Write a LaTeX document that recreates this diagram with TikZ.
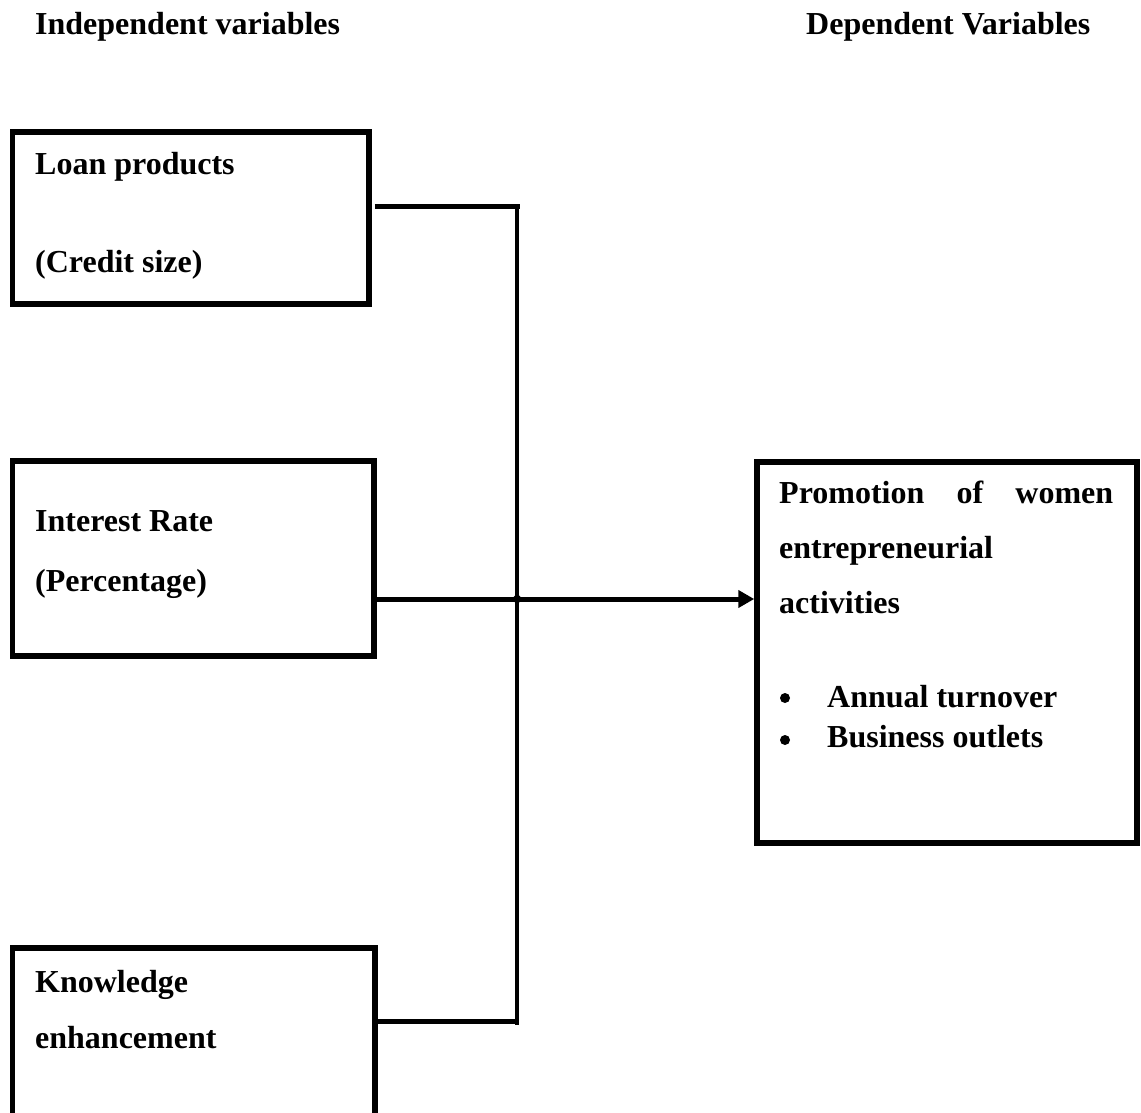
\documentclass[tikz,border=0pt]{standalone}
\usepackage{fontspec}
\setmainfont{Liberation Serif}
\usetikzlibrary{arrows.meta}
\tikzset{
  box/.style={draw, line width=5.5pt, rectangle, inner sep=0pt},
  txt/.style={anchor=base west, inner sep=0pt, font=\fontsize{32}{38}\selectfont\bfseries},
  bul/.style={circle, fill, inner sep=0pt, minimum size=10pt},
  hline/.style={line width=5pt},
  vline/.style={line width=4.5pt},
}
\begin{document}
\begin{tikzpicture}[x=1pt,y=-1pt]
\useasboundingbox (0,0) rectangle (1141,1113);
\clip (0,0) rectangle (1141,1113);
% headings
\node[txt] (hi) at (35,35) {Independent variables};
\node[txt] (hd) at (806,35) {Dependent Variables};
% boxes
\node[box, minimum width=356.5pt, minimum height=172pt] (b1) at (190.75,218) {};
\node[box, minimum width=361.5pt, minimum height=195pt] (b2) at (193.25,558.5) {};
\node[box, minimum width=362.5pt, minimum height=192pt] (b3) at (193.75,1044) {};
\node[box, minimum width=380pt, minimum height=381pt] (bd) at (947,652.5) {};
% texts
\node[txt] (t1a) at (35,175) {Loan products};
\node[txt] (t1b) at (35,272) {(Credit size)};
\node[txt] (t2a) at (35,531) {Interest Rate};
\node[txt] (t2b) at (35,591) {(Percentage)};
\node[txt] (t3a) at (35,992) {Knowledge};
\node[txt] (t3b) at (35,1048) {enhancement};
\node[txt] (d1) at (779,503) {\hbox to 334pt{Promotion\hfill of\hfill women}};
\node[txt] (d2) at (779,558) {entrepreneurial};
\node[txt] (d3) at (779,613) {activities};
\node[bul] (bu1) at (785,698) {};
\node[txt] (d4) at (827,707) {Annual turnover};
\node[bul] (bu2) at (785,740) {};
\node[txt] (d5) at (827,747) {Business outlets};
% connectors
\coordinate (j1) at (517,206);
\coordinate (jm) at (517,599);
\coordinate (j3) at (517,1021);
\coordinate (jend) at (517,1025);
\draw[hline] ([xshift=3pt]b1.east |- j1) -- ([xshift=2.5pt]j1);
\draw[vline] ([yshift=-2.5pt]j1) -- (jend);
\draw[hline] (b3.east |- j3) -- ([xshift=2pt]j3);
\draw[hline, -{Triangle[length=16pt,width=17pt]}] (b2.east |- jm) -- (bd.west |- jm);
\fill (jm) +(-5.5,0) -- +(0,-5.5) -- +(5.5,0) -- +(0,5.5) -- cycle;
\end{tikzpicture}
\end{document}
